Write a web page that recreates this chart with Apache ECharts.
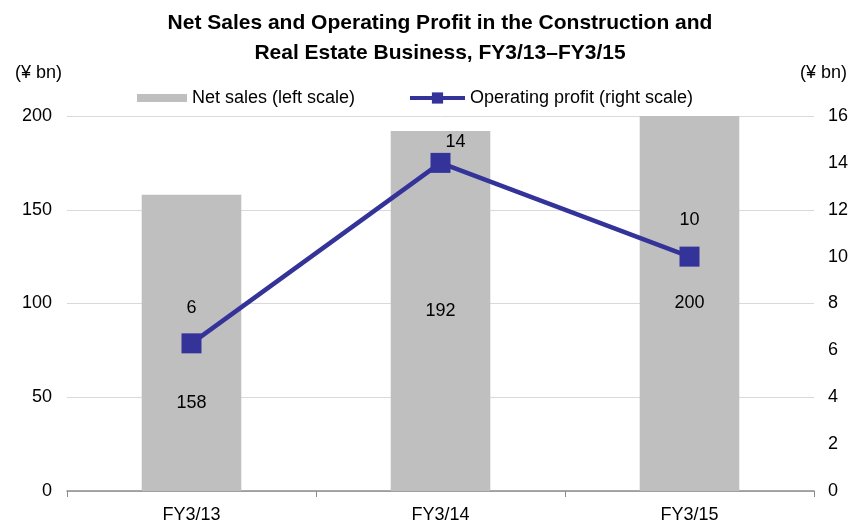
<!DOCTYPE html>
<html>
<head>
<meta charset="utf-8">
<script src="https://cdn.jsdelivr.net/npm/echarts@6/dist/echarts.min.js"></script>
<style>
  html, body { margin: 0; padding: 0; background: #fff; }
  #chart { width: 858px; height: 524px; }
</style>
</head>
<body>
<div id="chart"></div>
<script>
var categories = ["FY3/13", "FY3/14", "FY3/15"];
var netSales = [158, 192, 200];
var opProfit = [6.3, 14.0, 10.0];
var opLabels = ["6", "14", "10"];

// label tweaks so texts don't collide with the line
var salesOffsets = [[0, 60], [0, 0], [0, 0]];
var profitOffsets = [[0, -11], [15, 3], [0, -13]];

var font = "'Liberation Sans', 'Noto Sans CJK JP', sans-serif";

var chart = echarts.init(document.getElementById("chart"), null, { renderer: "canvas" });

chart.setOption({
  animation: false,
  textStyle: { fontFamily: font },
  title: {
    text: "Net Sales and Operating Profit in the Construction and\nReal Estate Business, FY3/13\u2013FY3/15",
    left: 435,
    textAlign: "center",
    top: 3,
    textStyle: { fontSize: 21, fontWeight: "bold", color: "#000", lineHeight: 30, fontFamily: font }
  },
  legend: [
    {
      top: 84,
      left: 132,
      itemWidth: 50,
      itemHeight: 8,
      textStyle: { fontSize: 18, color: "#000", fontFamily: font },
      data: [{ name: "Net sales (left scale)", icon: "rect" }]
    },
    {
      top: 84,
      left: 403,
      itemWidth: 55,
      itemHeight: 14,
      itemGap: 4,
      lineStyle: { width: 4 },
      textStyle: { fontSize: 18, color: "#000", fontFamily: font },
      data: [{ name: "Operating profit (right scale)" }]
    }
  ],
  grid: { left: 67, right: 44, top: 116, bottom: 33 },
  xAxis: {
    type: "category",
    data: categories,
    axisLine: { lineStyle: { color: "#8c8c8c", width: 1.5 } },
    axisTick: { show: true, length: 6, lineStyle: { color: "#8c8c8c" } },
    axisLabel: { fontSize: 18, color: "#000", margin: 15 }
  },
  yAxis: [
    {
      type: "value",
      min: 0, max: 200, interval: 50,
      name: "(\u00a5 bn)",
      nameLocation: "end",
      nameGap: 34,
      nameTextStyle: { fontSize: 18, color: "#000", align: "right", padding: [0, 5, 0, 0] },
      axisLine: { show: false },
      axisTick: { show: false },
      axisLabel: { fontSize: 18, color: "#000", margin: 15 },
      splitLine: { lineStyle: { color: "#d9d9d9", width: 1 } }
    },
    {
      type: "value",
      min: 0, max: 16, interval: 2,
      name: "(\u00a5 bn)",
      nameLocation: "end",
      nameGap: 34,
      nameTextStyle: { fontSize: 18, color: "#000", align: "left", padding: [0, 0, 0, -14] },
      axisLine: { show: false },
      axisTick: { show: false },
      axisLabel: { fontSize: 18, color: "#000", margin: 14 },
      splitLine: { show: false }
    }
  ],
  series: [
    {
      name: "Net sales (left scale)",
      type: "bar",
      yAxisIndex: 0,
      barWidth: "40%",
      itemStyle: { color: "#bfbfbf" },
      label: { show: true, position: "inside", fontSize: 18, color: "#000" },
      data: netSales.map(function (v, i) {
        return { value: v, label: { offset: salesOffsets[i] } };
      })
    },
    {
      name: "Operating profit (right scale)",
      type: "line",
      yAxisIndex: 1,
      symbol: "rect",
      symbolSize: 20,
      lineStyle: { color: "#333399", width: 4.5 },
      itemStyle: { color: "#333399" },
      label: {
        show: true, position: "top", fontSize: 18, color: "#000",
        formatter: function (p) { return opLabels[p.dataIndex]; }
      },
      data: opProfit.map(function (v, i) {
        return { value: v, label: { offset: profitOffsets[i] } };
      })
    }
  ]
});
</script>
</body>
</html>
